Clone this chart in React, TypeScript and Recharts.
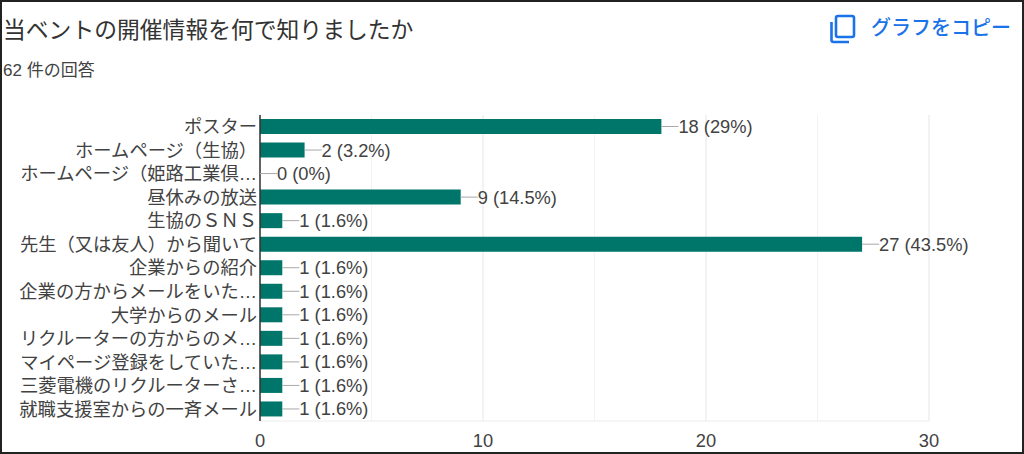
import { BarChart, Bar, XAxis, YAxis, CartesianGrid, LabelList } from 'recharts'

const FONT = "'Liberation Sans', 'Noto Sans CJK JP', sans-serif"

const categories = [
  'ポスター',
  'ホームページ（生協）',
  'ホームページ（姫路工業倶…',
  '昼休みの放送',
  '生協のＳＮＳ',
  '先生（又は友人）から聞いて',
  '企業からの紹介',
  '企業の方からメールをいた…',
  '大学からのメール',
  'リクルーターの方からのメ…',
  'マイページ登録をしていた…',
  '三菱電機のリクルーターさ…',
  '就職支援室からの一斉メール',
]
const counts = [18, 2, 0, 9, 1, 27, 1, 1, 1, 1, 1, 1, 1]
const percents = ['29', '3.2', '0', '14.5', '1.6', '43.5', '1.6', '1.6', '1.6', '1.6', '1.6', '1.6', '1.6']
const xTicks = [0, 10, 20, 30]
const minorTicks = [5, 15, 25]

const chartData = categories.map((name, i) => ({ name, count: counts[i], label: `${counts[i]} (${percents[i]}%)` }))

function LeaderLabel(props: any) {
  const { x, y, width, height, value } = props
  const end = x + width
  const mid = y + height / 2
  return (
    <g>
      <line x1={end} x2={end + 17} y1={mid} y2={mid} stroke="#a8a8a8" strokeWidth={1} />
      <text x={end + 17} y={mid + 6.5} fontSize={18.3} fontFamily={FONT} fill="#424242">
        {value}
      </text>
    </g>
  )
}

export default function App() {
  return (
    <div style={{ position: 'fixed', left: 0, top: 0, width: 1024, height: 454, background: '#fff', fontFamily: FONT }}>
      <BarChart
        width={1024}
        height={454}
        data={chartData}
        layout="vertical"
        margin={{ top: 115, right: 95, left: 0, bottom: 0 }}
      >
        <CartesianGrid stroke="#f3f3f3" horizontal={false} verticalValues={minorTicks} />
        <CartesianGrid stroke="#e6e6e6" horizontal={false} verticalValues={xTicks} />
        <XAxis
          type="number"
          domain={[0, 30]}
          ticks={xTicks}
          height={33}
          axisLine={{ stroke: '#ececec' }}
          tickLine={false}
          tickMargin={7}
          tick={{ fontSize: 18.3, fill: '#424242', fontFamily: FONT }}
        />
        <YAxis
          type="category"
          dataKey="name"
          width={260}
          interval={0}
          axisLine={{ stroke: '#333333', strokeWidth: 1.5 }}
          tickLine={false}
          tickSize={0}
          tickMargin={3}
          tick={{ fontSize: 18.3, fill: '#424242', fontFamily: FONT }}
        />
        <Bar dataKey="count" fill="#00756a" barSize={15} minPointSize={0.01} isAnimationActive={false}>
          <LabelList dataKey="label" content={<LeaderLabel />} />
        </Bar>
      </BarChart>
      <div style={{ position: 'absolute', left: 3, top: 14, fontSize: 22.8, lineHeight: '32px', color: '#333', whiteSpace: 'nowrap' }}>
        当ベントの開催情報を何で知りましたか
      </div>
      <div style={{ position: 'absolute', left: 3, top: 59, fontSize: 17, lineHeight: '24px', color: '#424242', whiteSpace: 'nowrap' }}>
        62 件の回答
      </div>
      <svg style={{ position: 'absolute', left: 829, top: 14 }} width={28} height={30} viewBox="0 0 28 30">
        <rect x={7} y={2} width={18} height={21} rx={2} fill="none" stroke="#1a73e8" strokeWidth={2.6} />
        <path d="M2.5 8 V26 a2 2 0 0 0 2 2 H20" fill="none" stroke="#1a73e8" strokeWidth={2.6} />
      </svg>
      <div style={{ position: 'absolute', left: 871, top: 14, fontSize: 20, lineHeight: '28px', fontWeight: 500, color: '#1a73e8', whiteSpace: 'nowrap' }}>
        グラフをコピー
      </div>
      <div style={{ position: 'absolute', inset: 0, border: '2px solid #222', boxSizing: 'border-box', pointerEvents: 'none' }} />
    </div>
  )
}
